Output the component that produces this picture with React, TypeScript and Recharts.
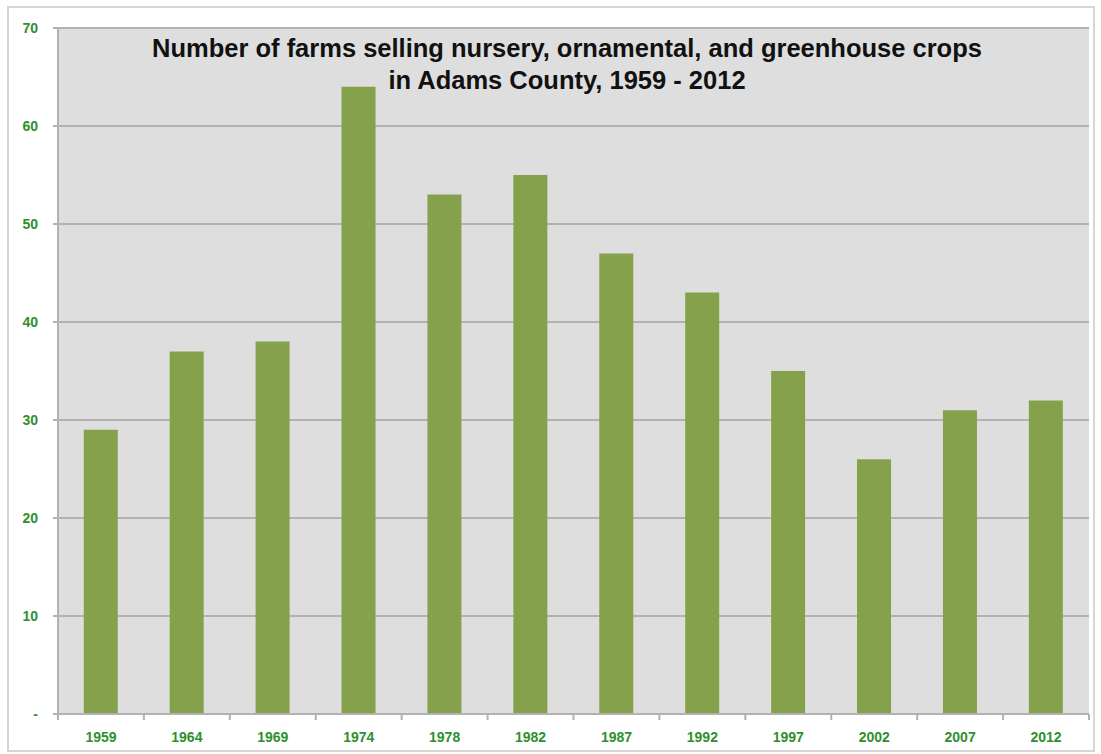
import { BarChart, Bar, CartesianGrid, XAxis, YAxis } from "recharts";

const years = ["1959", "1964", "1969", "1974", "1978", "1982", "1987", "1992", "1997", "2002", "2007", "2012"];
const farms = [29, 37, 38, 64, 53, 55, 47, 43, 35, 26, 31, 32];
const yTicks = [0, 10, 20, 30, 40, 50, 60, 70];
const titleLines = [
  "Number of farms selling nursery, ornamental, and greenhouse crops",
  "in Adams County, 1959 - 2012",
];

const data = years.map((year, i) => ({ year, farms: farms[i] }));

const CHART_W = 1084;
const CHART_H = 742;
const MARGIN = { top: 20, right: 4, bottom: 0, left: 0 };
const Y_AXIS_W = 49;
const X_AXIS_H = 36;
const PLOT_W = CHART_W - MARGIN.left - MARGIN.right - Y_AXIS_W;
const BAND = PLOT_W / years.length;

const GREEN_TEXT = "#2f8f2f";
const GRID = "#b2b2b2";
const FONT = "'Liberation Sans', Arial, sans-serif";

// recharts hands the tick y already pushed down by tickSize + tickMargin (6 + 2)
function XTick(props: any) {
  const { x, y, payload, index } = props;
  const axisY = y - 8;
  const left = x - BAND / 2;
  return (
    <g>
      <line x1={left} x2={left} y1={axisY} y2={axisY + 6} stroke={GRID} strokeWidth={2} />
      {index === years.length - 1 && (
        <line x1={x + BAND / 2} x2={x + BAND / 2} y1={axisY} y2={axisY + 6} stroke={GRID} strokeWidth={2} />
      )}
      <text
        x={x}
        y={y + 20}
        textAnchor="middle"
        fill={GREEN_TEXT}
        fontSize={14}
        fontWeight="bold"
        fontFamily={FONT}
      >
        {payload.value}
      </text>
    </g>
  );
}

export default function App() {
  return (
    <div
      style={{
        position: "absolute",
        left: 7,
        top: 6,
        width: CHART_W + 4,
        height: CHART_H + 4,
        border: "2px solid #d6d6d6",
        boxSizing: "border-box",
        background: "#fff",
      }}
    >
      <BarChart
        width={CHART_W}
        height={CHART_H}
        data={data}
        margin={MARGIN}
        barCategoryGap="30%"
      >
        <CartesianGrid
          vertical={false}
          fill="#dedede"
          stroke={GRID}
          strokeWidth={2}
        />
        <XAxis
          dataKey="year"
          height={X_AXIS_H}
          axisLine={{ stroke: GRID, strokeWidth: 2 }}
          tickLine={false}
          tick={<XTick />}
          interval={0}
        />
        <YAxis
          width={Y_AXIS_W}
          domain={[0, 70]}
          ticks={yTicks}
          interval={0}
          tickFormatter={(v: number) => (v === 0 ? "-" : String(v))}
          axisLine={{ stroke: GRID, strokeWidth: 2 }}
          tickLine={{ stroke: GRID, strokeWidth: 2 }}
          tickSize={5}
          tickMargin={15}
          tick={{ fill: GREEN_TEXT, fontSize: 14, fontWeight: "bold", fontFamily: FONT }}
        />
        <Bar dataKey="farms" fill="#86a14c" isAnimationActive={false} />
      </BarChart>
      <div
        style={{
          position: "absolute",
          left: 58,
          top: 24,
          width: 1000,
          textAlign: "center",
          fontFamily: FONT,
          fontWeight: "bold",
          fontSize: 25.5,
          lineHeight: "32px",
          color: "#111",
        }}
      >
        {titleLines.map((t) => (
          <div key={t}>{t}</div>
        ))}
      </div>
    </div>
  );
}
